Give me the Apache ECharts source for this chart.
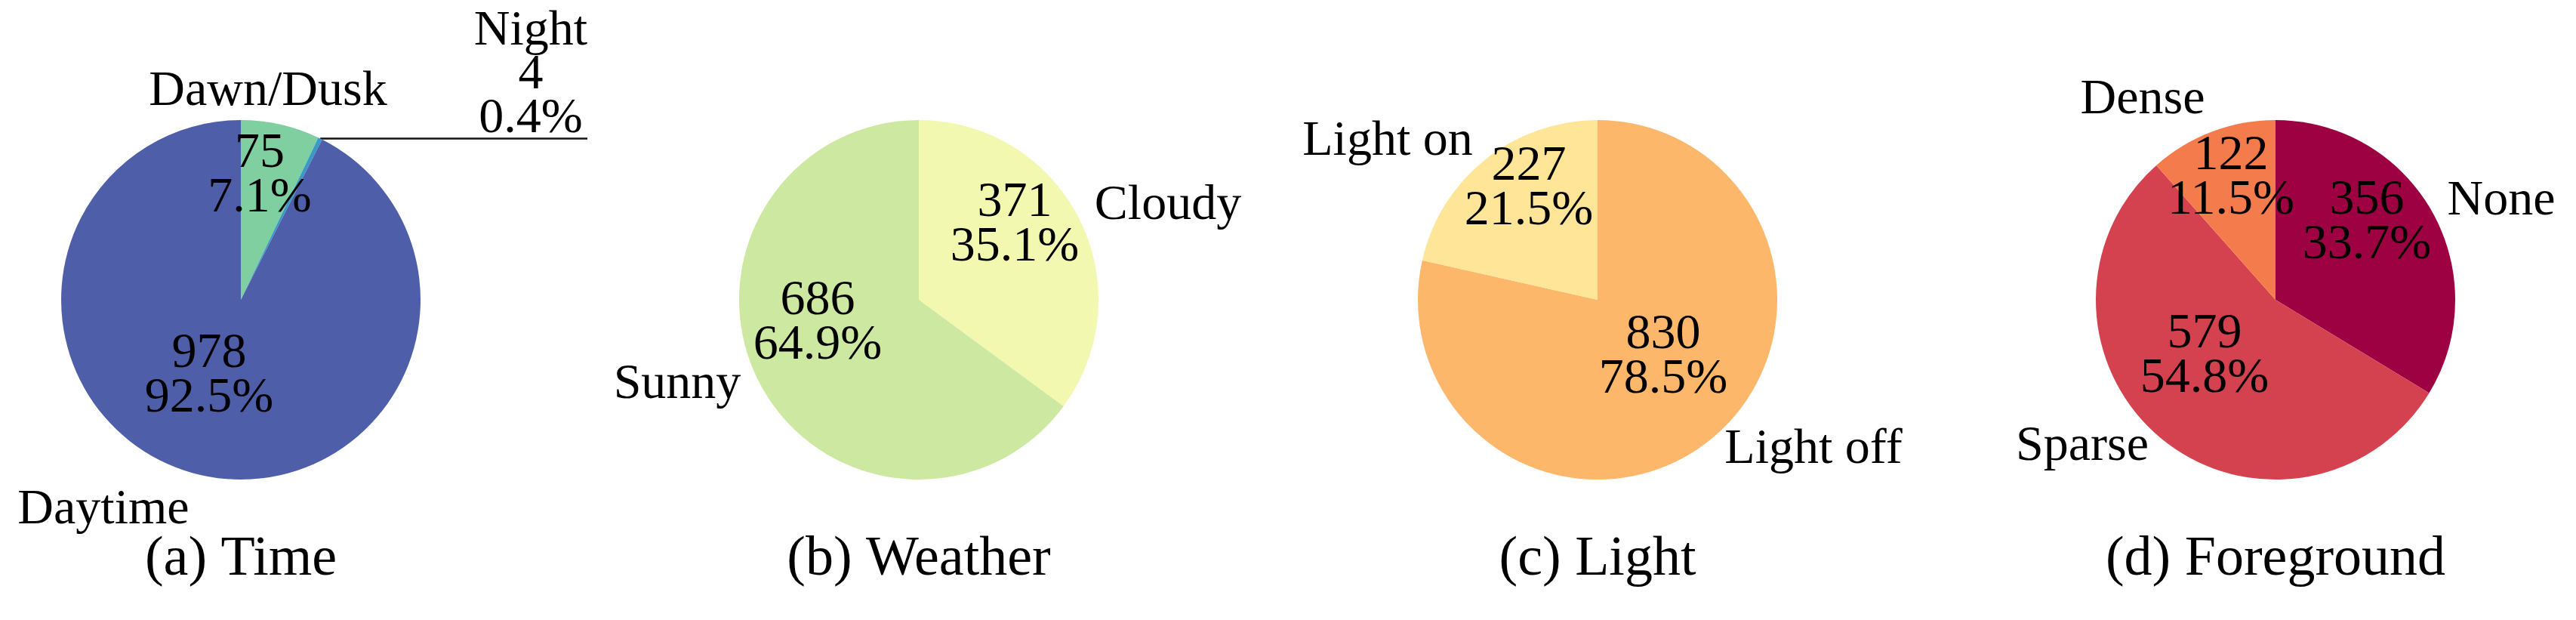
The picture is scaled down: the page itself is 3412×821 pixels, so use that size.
<!DOCTYPE html>
<html>
<head>
<meta charset="utf-8">
<script src="https://cdn.jsdelivr.net/npm/echarts@6/dist/echarts.min.js"></script>
<style>
html,body{margin:0;padding:0;background:#fff;}
#chart{width:3412px;height:821px;}
</style>
</head>
<body>
<div id="chart"></div>
<script>
// ---------- data ----------
const timeNames = ['Dawn/Dusk', 'Night', 'Daytime'];
const timeValues = [75, 4, 978];
const weatherNames = ['Cloudy', 'Sunny'];
const weatherValues = [371, 686];
const lightNames = ['Light off', 'Light on'];
const lightValues = [830, 227];
const foregroundNames = ['None', 'Sparse', 'Dense'];
const foregroundValues = [356, 579, 122];
const captions = ['(a) Time', '(b) Weather', '(c) Light', '(d) Foreground'];

// ---------- layout & style ----------
const FONT = '"Liberation Serif", "Times New Roman", serif';
const centersX = [319, 1217, 2116, 3014];
const centerY = 397;
const R = 238;
const captionY = 742;
const pieColors = [
  ['#80CFA1', '#3A9AC6', '#4E5EA9'],
  ['#F3F8B0', '#CDE8A0'],
  ['#FDB76B', '#FEE598'],
  ['#9E0142', '#D4414F', '#F47B4B']
];
// value label offsets from pie centre (null = no inside label)
const valueOffsets = [
  [[25, -164], null, [-42, 101]],
  [[127, -99], [-134, 31]],
  [[87, 76], [-91, -147]],
  [[121, -102], [-94, 75], [-59, -161]]
];
// category label offsets from pie centre
const nameOffsets = [
  [[36, -275], [384, -297], [-182, 279]],
  [[330, -124], [-320, 113]],
  [[286, 199], [-278, -209]],
  [[299, -130], [-256, 195], [-176, -264]]
];
// callout (leader line) item: pie 0, item 1, line end offset x from centre
const callout = { pie: 0, item: 1, lineEndDx: 459 };

const groups = [
  [timeNames, timeValues],
  [weatherNames, weatherValues],
  [lightNames, lightValues],
  [foregroundNames, foregroundValues]
];

const textBase = {
  color: '#000',
  fontFamily: FONT,
  fontSize: 66,
  textBorderWidth: 0,
  textShadowBlur: 0
};

const series = [];
groups.forEach(function (g, pi) {
  const names = g[0], values = g[1];
  const cx = centersX[pi];
  const mainData = names.map(function (n, i) {
    const item = { name: n, value: values[i], itemStyle: { color: pieColors[pi][i] } };
    if (!valueOffsets[pi][i]) item.label = { show: false };
    return item;
  });
  series.push({
    type: 'pie',
    center: [cx, centerY],
    radius: [0, R],
    startAngle: 90,
    clockwise: true,
    percentPrecision: 1,
    avoidLabelOverlap: false,
    silent: true,
    emphasis: { disabled: true },
    itemStyle: { borderWidth: 0 },
    label: Object.assign({
      show: true,
      position: 'inside',
      formatter: '{c}\n{d}%',
      lineHeight: 59
    }, textBase),
    labelLine: { show: false },
    labelLayout: function (p) {
      const o = valueOffsets[pi][p.dataIndex];
      if (!o) return {};
      return { x: cx + o[0], y: centerY + o[1], align: 'center', verticalAlign: 'middle' };
    },
    data: mainData
  });

  const nameData = names.map(function (n, i) {
    const item = { name: n, value: values[i] };
    if (callout.pie === pi && callout.item === i) {
      item.label = { formatter: '{b}\n{c}\n{d}%' };
      item.labelLine = { show: true, length: 10, length2: 10, lineStyle: { color: '#111', width: 2.5 } };
    }
    return item;
  });
  series.push({
    type: 'pie',
    center: [cx, centerY],
    radius: [0, R],
    startAngle: 90,
    clockwise: true,
    percentPrecision: 1,
    avoidLabelOverlap: false,
    silent: true,
    emphasis: { disabled: true },
    itemStyle: { color: 'rgba(0,0,0,0)', borderWidth: 0 },
    label: Object.assign({
      show: true,
      position: 'outside',
      formatter: '{b}',
      lineHeight: 58
    }, textBase),
    labelLine: { show: false },
    labelLayout: function (p) {
      const o = nameOffsets[pi][p.dataIndex];
      const res = { x: cx + o[0], y: centerY + o[1], align: 'center', verticalAlign: 'middle' };
      if (callout.pie === pi && callout.item === p.dataIndex) {
        let p0;
        if (p.labelLinePoints && p.labelLinePoints.length) {
          p0 = p.labelLinePoints[0];
        } else {
          let total = 0, before = 0;
          values.forEach(function (v, k) { total += v; if (k < p.dataIndex) before += v; });
          const a = (before + values[p.dataIndex] / 2) / total * 2 * Math.PI;
          p0 = [cx + R * Math.sin(a), centerY - R * Math.cos(a)];
        }
        const endX = cx + callout.lineEndDx;
        res.labelLinePoints = [[p0[0], p0[1]], [(p0[0] + endX) / 2, p0[1]], [endX, p0[1]]];
      }
      return res;
    },
    data: nameData
  });
});

const chart = echarts.init(document.getElementById('chart'), null, { renderer: 'canvas' });
chart.setOption({
  backgroundColor: '#ffffff',
  animation: false,
  tooltip: { show: false },
  series: series,
  graphic: captions.map(function (t, i) {
    return {
      type: 'text',
      x: centersX[i],
      y: captionY,
      silent: true,
      style: {
        text: t,
        fontSize: 74,
        fontFamily: FONT,
        fill: '#000',
        align: 'center',
        verticalAlign: 'middle',
        textAlign: 'center',
        textVerticalAlign: 'middle'
      }
    };
  })
});
</script>
</body>
</html>
